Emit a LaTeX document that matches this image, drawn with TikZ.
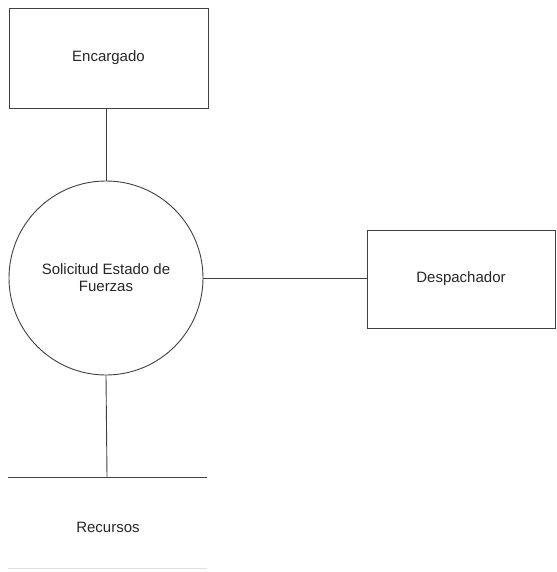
\documentclass[tikz,border=0pt]{standalone}
\usepackage{fontspec}
\setmainfont{Liberation Sans}
\begin{document}
\begin{tikzpicture}[x=1pt,y=-1pt,
  ln/.style={draw=black!75,line width=0.9pt},
  boxn/.style={ln,rectangle,inner sep=0pt},
  lbl/.style={font=\fontsize{15}{17}\selectfont,text=black!85,align=center}]
\useasboundingbox (0,0) rectangle (556,572);
\node[boxn,minimum width=199pt,minimum height=100pt,lbl] (enc) at (108.5,58) {Encargado};
\node[ln,circle,minimum size=194pt,inner sep=0pt,lbl] (sol) at (106,278) {Solicitud Estado de\\Fuerzas};
\node[boxn,minimum width=188pt,minimum height=98pt,lbl] (desp) at (461,279) {Despachador};
\coordinate (sl) at (8,477);
\coordinate (sr) at (207,477);
\coordinate (sm) at (107,477);
\coordinate (fl) at (8,568);
\coordinate (fr) at (207,568);
\node[lbl] (rec) at (108,527) {Recursos};
\draw[ln] (sl) -- (sr);
\draw[draw=black!12,line width=1pt] (fl) -- (fr);
\draw[ln] (enc.south -| sol.north) -- (sol.north);
\draw[ln] (sol.east) -- (sol.east -| desp.west);
\draw[ln] (sol.south) -- (sm);
\end{tikzpicture}
\end{document}
